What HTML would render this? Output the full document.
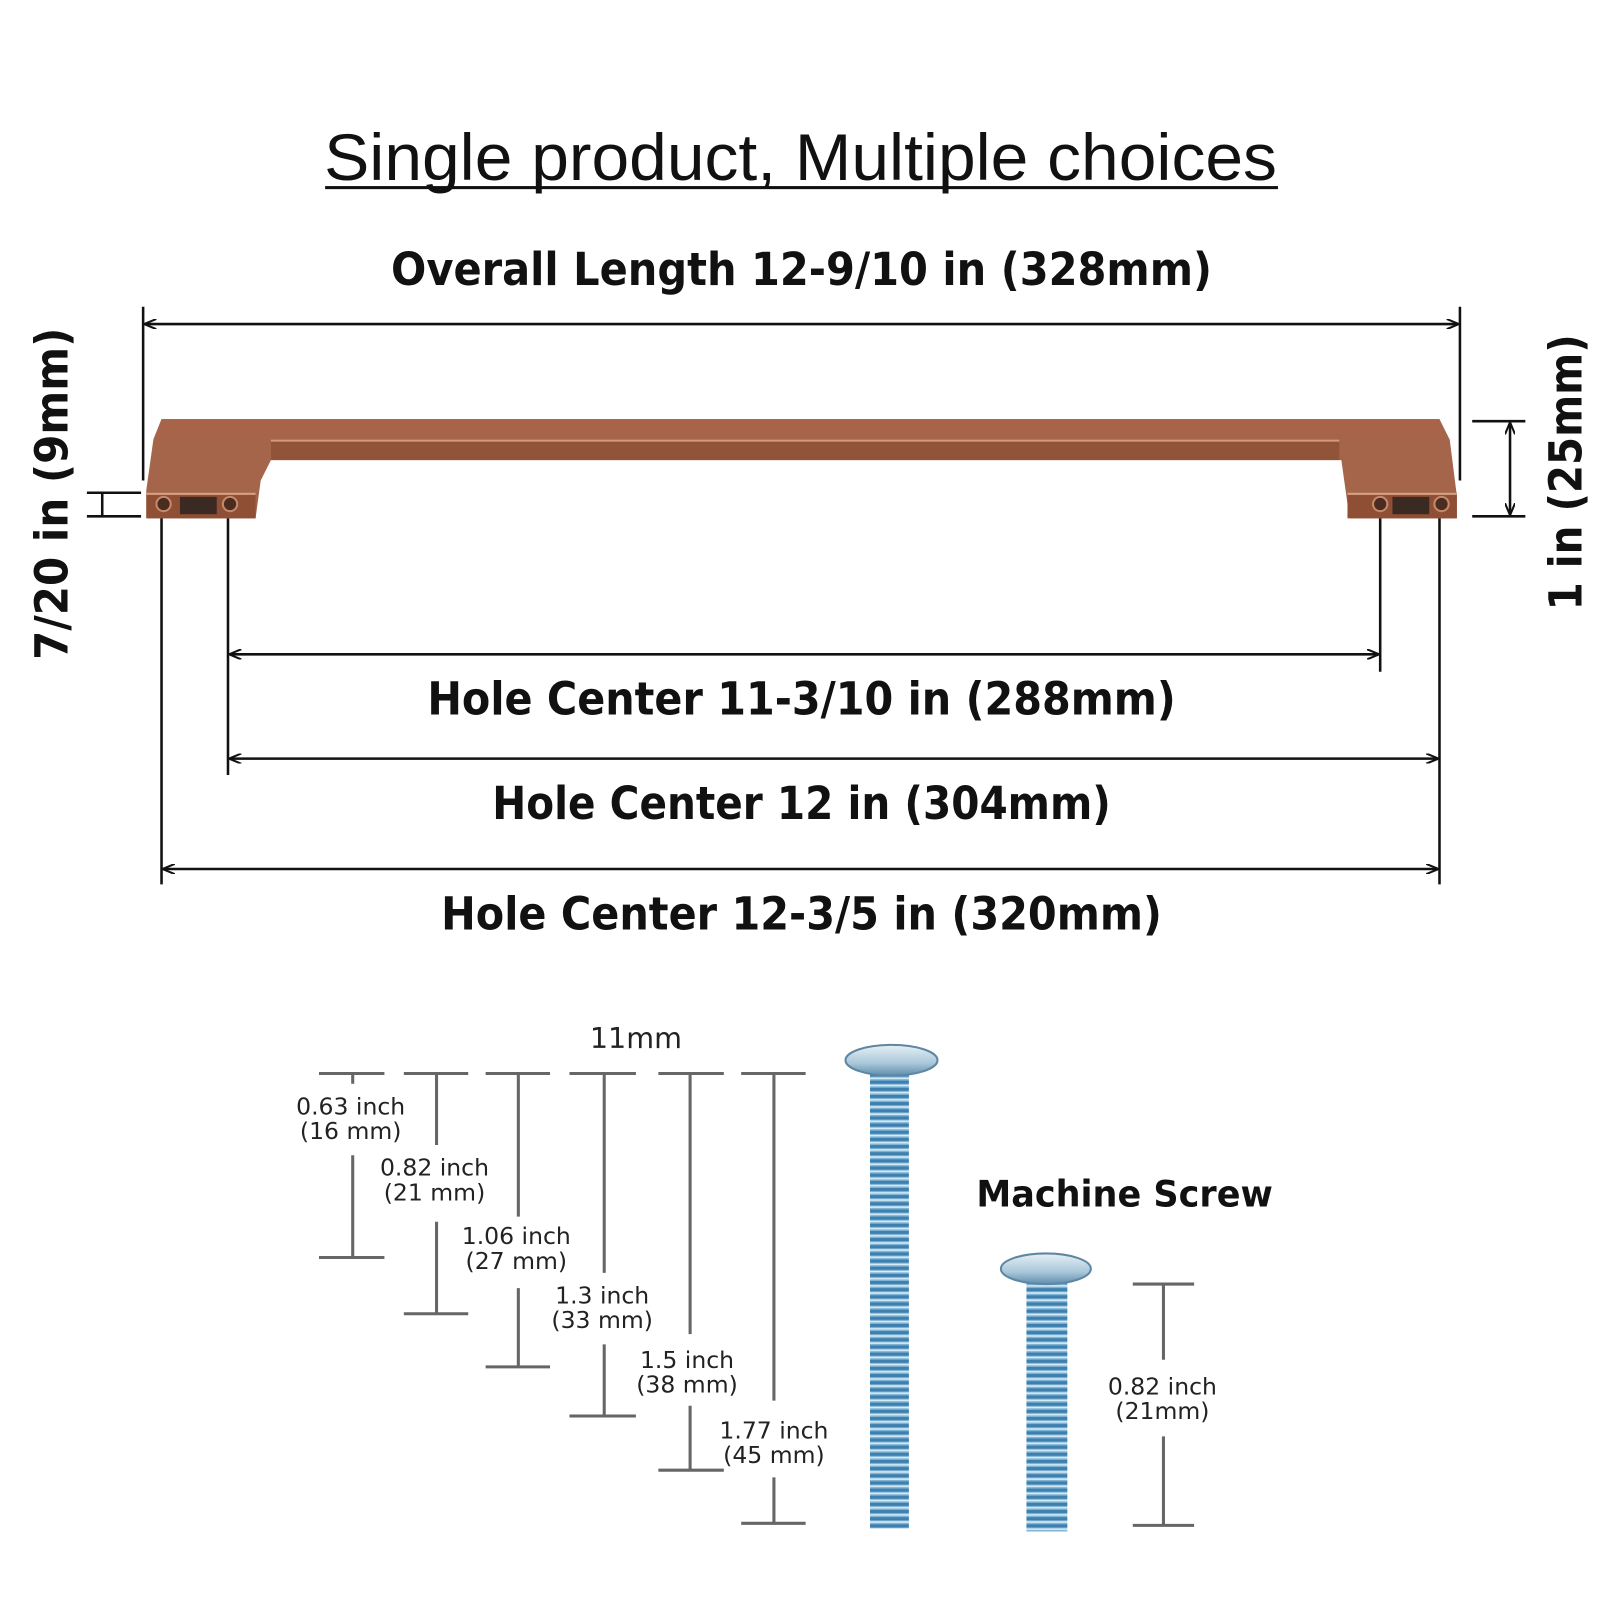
<!DOCTYPE html>
<html><head><meta charset="utf-8"><style>html,body{margin:0;padding:0;background:#fff}svg{display:block}</style></head>
<body>
<svg width="1600" height="1600" viewBox="0 0 1565 1565" xmlns="http://www.w3.org/2000/svg">
<defs>
<marker id="ar" viewBox="0 0 12 10" refX="11" refY="5" markerWidth="12" markerHeight="10" markerUnits="userSpaceOnUse" orient="auto-start-reverse"><path d="M0,0 L12,5 L0,10" fill="none" stroke="#111" stroke-width="2"/></marker>
<pattern id="thr" width="10" height="7" patternUnits="userSpaceOnUse"><rect width="10" height="7" fill="#7fb3d4"/><rect y="0" width="10" height="3" fill="#3d7fae"/><rect y="4" width="10" height="1.5" fill="#d7ecf7"/></pattern>
<linearGradient id="hd" x1="0" y1="0" x2="0" y2="1"><stop offset="0" stop-color="#e6f0f5"/><stop offset="0.6" stop-color="#a9c7d9"/><stop offset="1" stop-color="#5f8eae"/></linearGradient>
</defs>
<g font-family="Liberation Sans, DejaVu Sans, sans-serif" fill="#111">
<text x="783" y="176" font-size="64" text-anchor="middle" textLength="932" lengthAdjust="spacingAndGlyphs">Single product, Multiple choices</text>
<rect x="318" y="182" width="932" height="3" fill="#111"/>
<g font-family="DejaVu Sans, sans-serif" font-weight="bold" font-size="44">
<text x="784" y="279" text-anchor="middle" textLength="803" lengthAdjust="spacingAndGlyphs">Overall Length 12-9/10 in (328mm)</text>
<text x="784" y="699" text-anchor="middle" textLength="732" lengthAdjust="spacingAndGlyphs">Hole Center 11-3/10 in (288mm)</text>
<text x="784" y="801" text-anchor="middle" textLength="605" lengthAdjust="spacingAndGlyphs">Hole Center 12 in (304mm)</text>
<text x="784" y="909" text-anchor="middle" textLength="705" lengthAdjust="spacingAndGlyphs">Hole Center 12-3/5 in (320mm)</text>
<text transform="translate(66,483) rotate(-90)" text-anchor="middle" textLength="325" lengthAdjust="spacingAndGlyphs">7/20 in (9mm)</text>
<text transform="translate(1547,462) rotate(-90)" text-anchor="middle" textLength="270" lengthAdjust="spacingAndGlyphs">1 in (25mm)</text>
</g>
</g>
<g stroke="#111" stroke-width="2.5" fill="none">
<line x1="140" y1="300" x2="140" y2="470"/><line x1="1428" y1="300" x2="1428" y2="470"/>
<line x1="142" y1="317" x2="1426" y2="317" marker-start="url(#ar)" marker-end="url(#ar)"/>
<line x1="85" y1="482" x2="138" y2="482"/><line x1="85" y1="505" x2="138" y2="505"/><line x1="100" y1="482" x2="100" y2="505"/>
<line x1="1440" y1="412" x2="1492" y2="412"/><line x1="1440" y1="505" x2="1492" y2="505"/>
<line x1="1477" y1="414" x2="1477" y2="503" marker-start="url(#ar)" marker-end="url(#ar)"/>
<line x1="158" y1="495" x2="158" y2="865"/><line x1="223" y1="495" x2="223" y2="758"/>
<line x1="1350" y1="495" x2="1350" y2="657"/><line x1="1408" y1="495" x2="1408" y2="865"/>
<line x1="225" y1="640" x2="1348" y2="640" marker-start="url(#ar)" marker-end="url(#ar)"/>
<line x1="225" y1="742" x2="1406" y2="742" marker-start="url(#ar)" marker-end="url(#ar)"/>
<line x1="160" y1="850" x2="1406" y2="850" marker-start="url(#ar)" marker-end="url(#ar)"/>
</g>
<!-- handle -->
<polygon points="158,410 1408,410 1418,430 1425,485 1425,507 1320,507 1312,450 265,450 255,470 250,507 145,507 143,480 150,430" fill="#a5654a"/>
<polygon points="158,410 1408,410 1410,430 150,430" fill="#a86448"/>
<rect x="265" y="430" width="1045" height="20" fill="#925438"/>
<line x1="265" y1="431" x2="1310" y2="431" stroke="#d49a7c" stroke-width="2"/>
<rect x="143" y="482" width="107" height="25" fill="#8f4f35"/>
<rect x="1318" y="482" width="107" height="25" fill="#8f4f35"/>
<line x1="143" y1="483" x2="250" y2="483" stroke="#d9a184" stroke-width="2"/>
<line x1="1318" y1="483" x2="1425" y2="483" stroke="#d9a184" stroke-width="2"/>
<rect x="176" y="486" width="36" height="17" fill="#3a2a22"/><rect x="1362" y="486" width="36" height="17" fill="#3a2a22"/>
<g fill="#4a2c20" stroke="#c58a6c" stroke-width="2"><circle cx="160" cy="493" r="7"/><circle cx="225" cy="493" r="7"/><circle cx="1350" cy="493" r="7"/><circle cx="1410" cy="493" r="7"/></g>
<!-- screw dims -->
<g stroke="#666" stroke-width="3" fill="none">
<path d="M312,1050H376M395,1050H458M475,1050H538M557,1050H622M644,1050H708M725,1050H788"/>
<path d="M345,1050V1060M345,1130V1230M312,1230H376"/>
<path d="M427,1050V1120M427,1195V1285M395,1285H458"/>
<path d="M507,1050V1190M507,1260V1337M475,1337H538"/>
<path d="M591,1050V1245M591,1315V1385M557,1385H622"/>
<path d="M675,1050V1305M675,1375V1438M644,1438H708"/>
<path d="M757,1050V1370M757,1445V1490M725,1490H788"/>
<path d="M1108,1256H1168M1138,1256V1330M1138,1405V1492M1108,1492H1168"/>
</g>
<g font-family="DejaVu Sans, sans-serif" font-size="23" fill="#222" text-anchor="middle">
<text x="622" y="1025" font-size="28">11mm</text>
<text x="343" y="1090">0.63 inch</text><text x="343" y="1114">(16 mm)</text>
<text x="425" y="1150">0.82 inch</text><text x="425" y="1174">(21 mm)</text>
<text x="505" y="1217">1.06 inch</text><text x="505" y="1241">(27 mm)</text>
<text x="589" y="1275">1.3 inch</text><text x="589" y="1299">(33 mm)</text>
<text x="672" y="1338">1.5 inch</text><text x="672" y="1362">(38 mm)</text>
<text x="757" y="1407">1.77 inch</text><text x="757" y="1431">(45 mm)</text>
<text x="1137" y="1364">0.82 inch</text><text x="1137" y="1388">(21mm)</text>
</g>
<text x="1100" y="1180" font-family="DejaVu Sans, sans-serif" font-weight="bold" font-size="36" text-anchor="middle" textLength="290" lengthAdjust="spacingAndGlyphs" fill="#111">Machine Screw</text>
<!-- screws -->
<rect x="851" y="1045" width="38" height="450" fill="url(#thr)"/>
<ellipse cx="872" cy="1037" rx="45" ry="15" fill="url(#hd)" stroke="#5f87a3" stroke-width="2"/>
<rect x="1004" y="1250" width="40" height="248" fill="url(#thr)"/>
<ellipse cx="1023" cy="1241" rx="44" ry="15" fill="url(#hd)" stroke="#5f87a3" stroke-width="2"/>
</svg>
</body></html>
